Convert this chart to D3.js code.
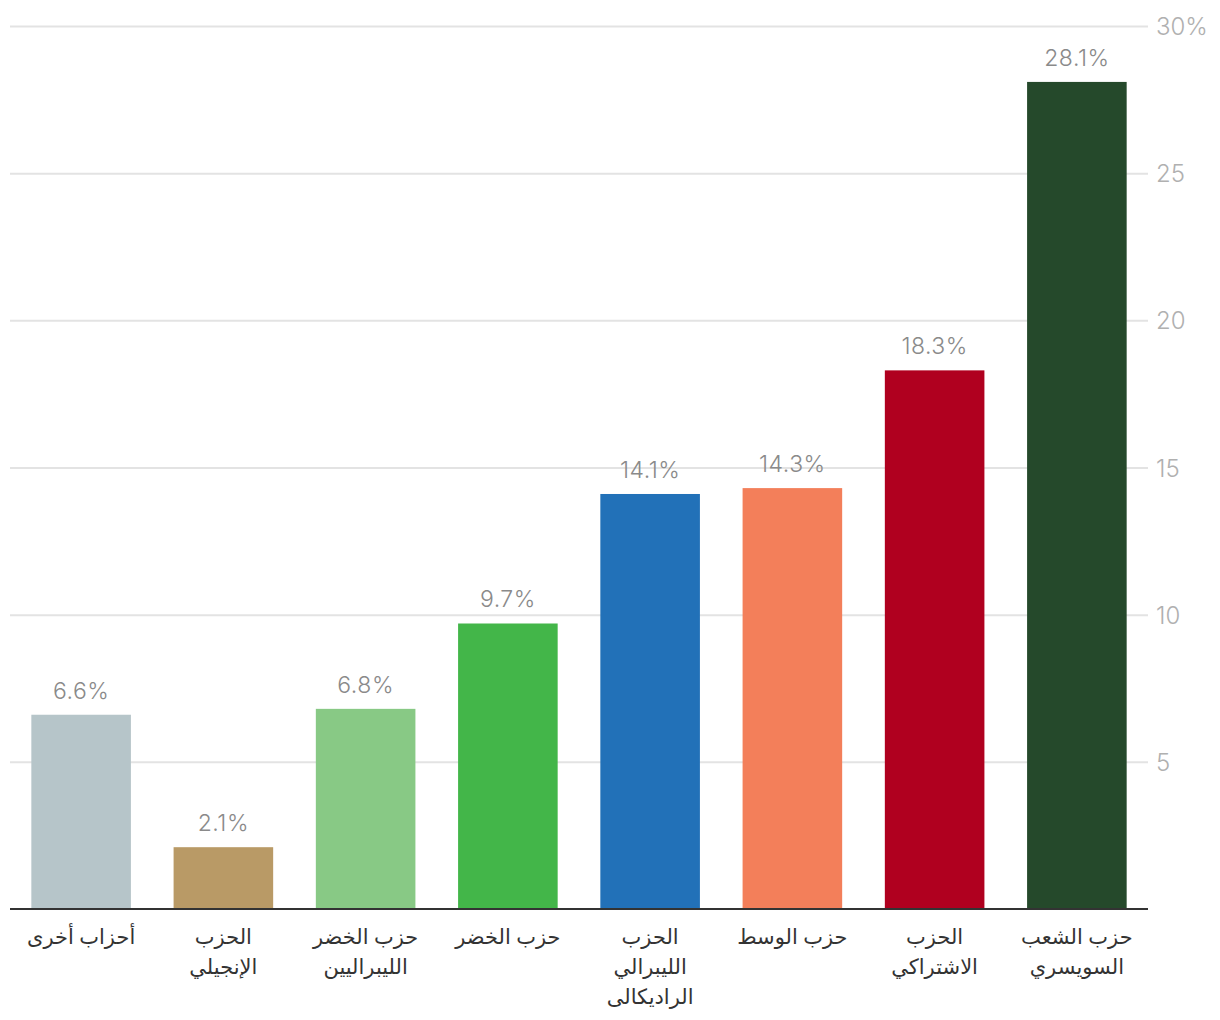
<!DOCTYPE html>
<html><head><meta charset="utf-8">
<script src="https://cdn.jsdelivr.net/npm/d3@7"></script>
<style>
html,body{margin:0;padding:0;background:#fff;}
svg{display:block;font-family:"Noto Sans","DejaVu Sans",sans-serif;}
</style></head>
<body><svg id="chart" width="1220" height="1020"></svg>
<script>
const categories = [
  ["أحزاب أخرى"],
  ["الحزب","الإنجيلي"],
  ["حزب الخضر","الليبراليين"],
  ["حزب الخضر"],
  ["الحزب","الليبرالي","الراديكالى"],
  ["حزب الوسط"],
  ["الحزب","الاشتراكي"],
  ["حزب الشعب","السويسري"]
];
const values = [6.6, 2.1, 6.8, 9.7, 14.1, 14.3, 18.3, 28.1];
const colors = ["#b6c5c9","#b99a66","#88c985","#43b649","#2271b8","#f37f5a","#b0001f","#25492b"];
const tickValues = [5, 10, 15, 20, 25, 30];
const tickLabels = ["5","10","15","20","25","30%"];

(function(){
const svg = d3.select("#chart");
const numFont = "Inter, Roboto, sans-serif";
const mLeft = 10, mRight = 1148, mTop = 26, mBottom = 909;
const x = d3.scaleBand().domain(d3.range(values.length)).range([mLeft, mRight]).paddingInner(0.3).paddingOuter(0.15);
const y = d3.scaleLinear().domain([0, 30]).range([mBottom, mTop]);

const yAxis = d3.axisRight(y).tickValues(tickValues).tickSize(mRight - mLeft)
  .tickFormat((d,i) => tickLabels[i]);
const ga = svg.append("g").attr("transform", `translate(${mLeft},0)`).call(yAxis);
ga.select(".domain").remove();
ga.selectAll(".tick line").attr("stroke", "#e3e3e3").attr("stroke-width", 2);
ga.selectAll(".tick text").attr("x", mRight - mLeft + 8).attr("dy", "0.36em")
  .attr("fill", "#b0b0b0").attr("font-size", 24).attr("font-family", numFont).attr("font-weight", 300);

svg.append("g").selectAll("rect").data(values).join("rect")
  .attr("x", (d,i) => x(i)).attr("width", x.bandwidth())
  .attr("y", d => y(d)).attr("height", d => mBottom - y(d))
  .attr("fill", (d,i) => colors[i]);

svg.append("g").selectAll("text").data(values).join("text")
  .attr("x", (d,i) => x(i) + x.bandwidth()/2).attr("y", d => y(d) - 16)
  .attr("text-anchor", "middle").attr("fill", "#8a8a8a").attr("font-size", 23)
  .attr("letter-spacing", 0.5)
  .attr("font-family", numFont).attr("font-weight", 300)
  .text(d => d.toFixed(1) + "%");

svg.append("line").attr("x1", mLeft).attr("x2", mRight).attr("y1", mBottom).attr("y2", mBottom)
  .attr("stroke", "#333").attr("stroke-width", 2);

const xa = svg.append("g");
categories.forEach((lines, i) => {
  const cx = x(i) + x.bandwidth()/2;
  const t = xa.append("text").attr("text-anchor", "middle").attr("direction", "rtl")
    .attr("fill", "#333").attr("font-size", 21).attr("x", cx);
  lines.forEach((ln, j) => {
    t.append("tspan").attr("x", cx).attr("y", 944 + j*30).text(ln);
  });
});
})();
</script></body></html>
